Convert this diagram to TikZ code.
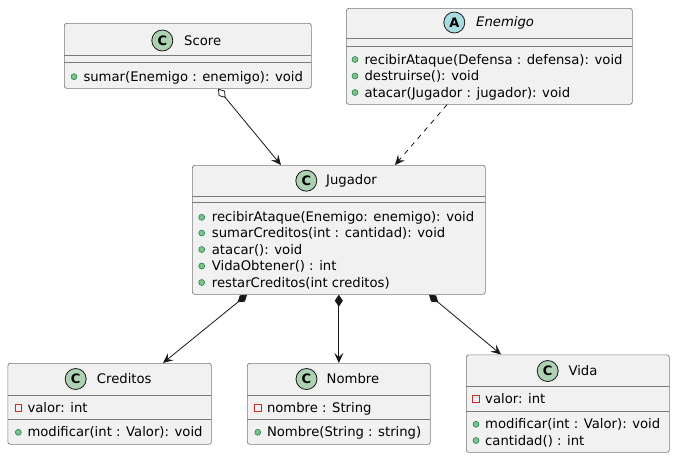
\documentclass[tikz,border=0pt]{standalone}
\usepackage{fontspec}
\setmainfont{DejaVu Sans}
\usetikzlibrary{arrows.meta,calc}
\definecolor{boxfill}{HTML}{F1F1F1}
\definecolor{bordo}{HTML}{181818}
\definecolor{grigio}{HTML}{7A7A7A}
\definecolor{verdeC}{HTML}{ADD1B2}
\definecolor{azzurroA}{HTML}{A9DCDF}
\definecolor{puntoV}{HTML}{84BE84}
\definecolor{puntoB}{HTML}{038048}
\definecolor{rosso}{HTML}{C82930}
\tikzset{%
  classbox/.style={draw=grigio, fill=boxfill, line width=0.7pt,
    rounded corners=2.5pt, inner sep=0pt, anchor=north west},
  sepline/.style={draw=grigio, line width=0.7pt},
  icona/.style={circle, draw=bordo, line width=0.8pt, minimum size=21pt,
    inner sep=0pt, font=\fontsize{13}{13}\selectfont\bfseries},
  titolo/.style={anchor=west, inner sep=0pt, font=\fontsize{13.2}{15}\selectfont},
  membro/.style={anchor=base west, inner sep=0pt, font=\fontsize{13.2}{15}\selectfont},
  dotpub/.style={circle, draw=puntoB, fill=puntoV, line width=0.5pt,
    minimum size=6pt, inner sep=0pt},
  dotpriv/.style={rectangle, draw=rosso, line width=0.8pt,
    minimum size=6.5pt, inner sep=0pt},
  punta/.style={-{Stealth[length=10pt,width=9pt,inset=4pt]}},
  aggreg/.style={{Diamond[open,length=12pt,width=8pt]}-{Stealth[length=10pt,width=9pt,inset=4pt]},
    draw=bordo, line width=0.8pt},
  compos/.style={{Diamond[length=12pt,width=8pt]}-{Stealth[length=10pt,width=9pt,inset=4pt]},
    draw=bordo, line width=0.8pt},
  dipend/.style={punta, draw=bordo, line width=0.8pt, dash pattern=on 5pt off 5pt}
}
\newcommand{\classe}[7]{%
  \node[classbox, minimum width={(#4-#2)*1pt}, minimum height={(#5-#3)*1pt}] (#1) at (#2,#3) {};
  \draw[sepline] (#2,#6) -- (#4,#6);
  \draw[sepline] (#2,#7) -- (#4,#7);
}
\newcommand{\intesta}[7]{%
  \node[icona, fill=#5] (#1-ico) at (#2,#3) {#4};
  \node[titolo] (#1-tit) at (#6,#3) {#7};
}
\newcommand{\pubblico}[5]{%
  \node[dotpub] (#1-d) at (#2,#3) {};
  \node[membro] (#1) at (#4,#3+4.5) {#5};
}
\newcommand{\privato}[5]{%
  \node[dotpriv] (#1-d) at (#2,#3) {};
  \node[membro] (#1) at (#4,#3+4.5) {#5};
}

\begin{document}
\begin{tikzpicture}[x=1pt,y=-1pt]
\path[fill=white] (0,0) rectangle (675,458);
\useasboundingbox (0,0) rectangle (675,458);

\classe{sco}{64}{23}{311}{88}{55}{62.5}
\classe{ene}{346}{8}{632}{104}{38.5}{46.5}
\classe{jug}{192}{165}{485}{294}{196}{202.5}
\classe{cre}{7.5}{363}{211}{444}{395.5}{419}
\classe{nom}{247}{363}{430}{444}{395.5}{419}
\classe{vid}{466}{354.5}{669}{452}{386.5}{411}

\intesta{sco}{162.3}{40.5}{C}{verdeC}{184}{Score}
\intesta{ene}{454.3}{22.5}{A}{azzurroA}{476}{\itshape Enemigo}
\intesta{jug}{306.3}{180.7}{C}{verdeC}{326}{Jugador}
\intesta{cre}{75.7}{379}{C}{verdeC}{96.7}{Creditos}
\intesta{nom}{306.5}{379}{C}{verdeC}{326.5}{Nombre}
\intesta{vid}{547.7}{371}{C}{verdeC}{568.3}{Vida}

\pubblico{sco-m1}{74}{76.7}{83.3}{sumar(Enemigo : enemigo): void}

\pubblico{ene-m1}{355}{59.5}{364.3}{recibirAtaque(Defensa : defensa): void}
\pubblico{ene-m2}{355}{76}{364.3}{destruirse(): void}
\pubblico{ene-m3}{355}{92.5}{364.3}{atacar(Jugador : jugador): void}

\pubblico{jug-m1}{201.7}{217.3}{211.7}{recibirAtaque(Enemigo: enemigo): void}
\pubblico{jug-m2}{201.7}{233}{211.7}{sumarCreditos(int : cantidad): void}
\pubblico{jug-m3}{201.7}{249.5}{211.7}{atacar(): void}
\pubblico{jug-m4}{201.7}{266}{211.7}{VidaObtener() : int}
\pubblico{jug-m5}{201.7}{282.5}{211.7}{restarCreditos(int creditos)}

\privato{cre-a1}{18.3}{407.7}{27.3}{valor: int}
\pubblico{cre-m1}{18.3}{432.3}{27.3}{modificar(int : Valor): void}

\privato{nom-a1}{257.8}{407.7}{266.8}{nombre : String}
\pubblico{nom-m1}{257.8}{432.3}{266.8}{Nombre(String : string)}

\privato{vid-a1}{476}{399}{485}{valor: int}
\pubblico{vid-m1}{476}{424.3}{485}{modificar(int : Valor): void}
\pubblico{vid-m2}{476}{440.5}{485}{cantidad() : int}

\draw[aggreg] ($(sco.south west)+(154,0)$) -- ($(jug.north west)+(89,0)$);
\draw[dipend] ($(ene.south west)+(101,0)$) -- ($(jug.north west)+(203,0)$);
\draw[compos] ($(jug.south west)+(55,0)$) -- ($(cre.north west)+(155.5,0)$);
\draw[compos] (jug.south) -- (nom.north);
\draw[compos] ($(jug.south west)+(237,0)$) -- ($(vid.north west)+(35,0)$);
\end{tikzpicture}
\end{document}
